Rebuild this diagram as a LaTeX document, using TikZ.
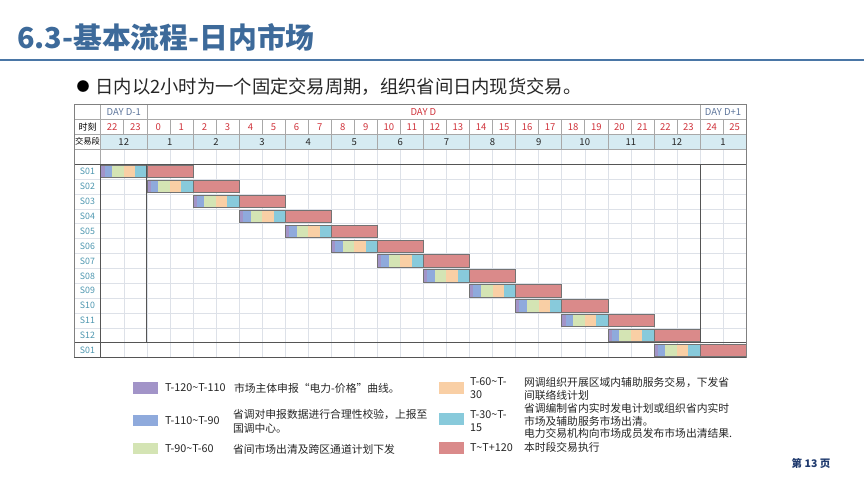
\documentclass[tikz,border=0pt]{standalone}
\usepackage{fontspec}
\setmainfont{Noto Sans CJK SC}
\definecolor{ctitle}{HTML}{3D6A9A}
\definecolor{cline}{HTML}{4A76A6}
\definecolor{cred}{HTML}{D0343C}
\definecolor{cday}{HTML}{5E769C}
\definecolor{cteal}{HTML}{4E97B0}
\definecolor{cseg}{HTML}{D6EBF2}
\definecolor{cmed}{HTML}{A8A8A8}
\definecolor{clight}{HTML}{DDE1E8}
\definecolor{cdark}{HTML}{555555}
\definecolor{cpur}{HTML}{A294C8}
\definecolor{cblu}{HTML}{8FAADC}
\definecolor{cgrn}{HTML}{D4E4B4}
\definecolor{corg}{HTML}{F9CFA5}
\definecolor{ccyn}{HTML}{88CADB}
\definecolor{cpnk}{HTML}{DA8A8A}
\definecolor{ctext}{HTML}{262626}
\definecolor{cpage}{HTML}{1F3A6E}
\begin{document}
\begin{tikzpicture}[x=1pt,y=-1pt,
  every node/.style={inner sep=0pt,outer sep=0pt},
  titlefont/.style={font=\bfseries\fontsize{28.8}{30}\selectfont,text=ctitle},
  hdr/.style={font=\fontsize{9}{10}\selectfont,text=black},
  hourlab/.style={font=\fontsize{9.5}{10}\selectfont,text=cred},
  seglab/.style={font=\fontsize{9.5}{10}\selectfont,text=ctext},
  daylab/.style={font=\fontsize{9.5}{10}\selectfont},
  slab/.style={font=\fontsize{8.8}{10}\selectfont,text=cteal},
  legt/.style={font=\fontsize{10.8}{12.8}\selectfont,align=left,anchor=west,text=ctext},
  medline/.style={draw=cmed,line width=0.6pt},
  lightline/.style={draw=clight,line width=0.5pt},
  darkline/.style={draw=cdark,line width=1pt},
  barline/.style={draw=black!55,line width=0.6pt}
]
\useasboundingbox (0,0) rectangle (864,486);
\fill[white] (0,0) rectangle (864,486);

% title
\node[titlefont,anchor=base west] (title) at (17,49) {6.3-基本流程-日内市场};
\draw[cline,line width=1.8pt] (0,60.3) -- (864,60.3);
\node[font=\fontsize{13}{14}\selectfont] (bul) at (83,86.5) {●};
\node[anchor=west,font=\fontsize{18.3}{20}\selectfont,text=ctext] (sub) at (95.5,86.5) {日内以2小时为一个固定交易周期，组织省间日内现货交易。};

% table geometry
\def\L{74.3}
\def\X{100.7}
\def\W{23.05}
\def\T{104.5}
\def\H{14.9}
\pgfmathsetmacro\R{\X+28*\W}

% segment row fill
\fill[cseg] (\X,{\T+2*\H}) rectangle (\R,{\T+3*\H});

% light grid (blank row and S rows)
\foreach \j in {1,...,27} {
  \draw[lightline] ({\X+\j*\W},{\T+3*\H}) -- ({\X+\j*\W},{\T+17*\H});
}
\foreach \i in {5,...,15} {
  \draw[lightline] (\L,{\T+\i*\H}) -- (\R,{\T+\i*\H});
}

% header medium lines
\foreach \i in {1,2,3} {
  \draw[medline] (\L,{\T+\i*\H}) -- (\R,{\T+\i*\H});
}
\draw[medline] (\X,\T) -- (\X,{\T+4*\H});
\draw[medline] ({\X+2*\W},\T) -- ({\X+2*\W},{\T+\H});
\draw[medline] ({\X+26*\W},\T) -- ({\X+26*\W},{\T+\H});
\foreach \j in {1,...,27} {
  \draw[medline] ({\X+\j*\W},{\T+\H}) -- ({\X+\j*\W},{\T+2*\H});
}
\foreach \j in {1,...,13} {
  \draw[medline] ({\X+2*\j*\W},{\T+2*\H}) -- ({\X+2*\j*\W},{\T+3*\H});
}

% header texts
\node[daylab,text=cday] (dm1) at ({\X+\W},{\T+0.5*\H}) {DAY D-1};
\node[daylab,text=cred] (d0) at ({\X+14*\W},{\T+0.5*\H}) {DAY D};
\node[daylab,text=cday] (dp1) at ({\X+27*\W},{\T+0.5*\H}) {DAY D+1};
\node[hdr] (shike) at ({(\L+\X)/2},{\T+1.5*\H}) {时刻};
\node[hdr,font=\fontsize{8.3}{10}\selectfont] (jyd) at ({(\L+\X)/2},{\T+2.5*\H}) {交易段};
\foreach \j in {0,...,27} {
  \pgfmathtruncatemacro\hh{\j<2 ? \j+22 : \j-2}
  \node[hourlab] (h\j) at ({\X+(\j+0.5)*\W},{\T+1.5*\H}) {\hh};
}
\foreach \j in {0,...,13} {
  \pgfmathtruncatemacro\ss{\j==0 ? 12 : (\j<13 ? \j : 1)}
  \node[seglab] (g\j) at ({\X+(2*\j+1)*\W},{\T+2.5*\H}) {\ss};
}

% row labels and bars
\foreach \k in {1,...,13} {
  \pgfmathtruncatemacro\nn{\k<13 ? \k : 1}
  \node[slab] (s\k) at ({(\L+\X)/2},{\T+(3.5+\k)*\H}) {S\ifnum\nn<10 0\fi\nn};
  \pgfmathsetmacro\ya{\T+(3+\k)*\H+1.3}
  \pgfmathsetmacro\yb{\T+(4+\k)*\H-1.3}
  \pgfmathsetmacro\xa{\X+2*(\k-1)*\W}
  \pgfmathsetmacro\u{\W/6}
  \fill[cpur] (\xa,\ya) rectangle ({\xa+\u},\yb);
  \fill[cblu] ({\xa+\u},\ya) rectangle ({\xa+3*\u},\yb);
  \fill[cgrn] ({\xa+3*\u},\ya) rectangle ({\xa+6*\u},\yb);
  \fill[corg] ({\xa+6*\u},\ya) rectangle ({\xa+9*\u},\yb);
  \fill[ccyn] ({\xa+9*\u},\ya) rectangle ({\xa+12*\u},\yb);
  \fill[cpnk] ({\xa+12*\u},\ya) rectangle ({\xa+24*\u},\yb);
  \draw[barline] (\xa,\ya) rectangle ({\xa+12*\u},\yb);
  \draw[barline] ({\xa+12*\u},\ya) rectangle ({\xa+24*\u},\yb);
}

% dark lines
\draw[darkline] (\L,{\T+4*\H}) -- (\R,{\T+4*\H});
\draw[darkline] (\L,{\T+16*\H}) -- (\R,{\T+16*\H});
\draw[darkline] (\X,{\T+4*\H}) -- (\X,{\T+17*\H});
\draw[darkline] ({\X+2*\W},{\T+4*\H}) -- ({\X+2*\W},{\T+16*\H});
\draw[darkline] ({\X+26*\W},{\T+4*\H}) -- ({\X+26*\W},{\T+16*\H});
% outer border
\draw[draw=black!50,line width=1pt] (\L,\T) rectangle (\R,{\T+17*\H});
\draw[darkline] (\L,{\T+17*\H}) -- (\R,{\T+17*\H});

% legend
\fill[cpur] (133,382) rectangle (158,394);
\fill[cblu] (133,414.5) rectangle (158,426);
\fill[cgrn] (133,442.5) rectangle (158,453.5);
\fill[corg] (439,382) rectangle (464,394);
\fill[ccyn] (439,413) rectangle (464,425);
\fill[cpnk] (439,442) rectangle (464,453.5);

\node[legt] (l1) at (165,388) {T-120\textasciitilde T-110};
\node[legt] (l2) at (165,420.5) {T-110\textasciitilde T-90};
\node[legt] (l3) at (165,448.3) {T-90\textasciitilde T-60};
\node[legt] (d1) at (234,388) {市场主体申报“电力-价格”曲线。};
\node[legt,font=\fontsize{10.8}{14}\selectfont] (d2) at (233,421.5) {省调对申报数据进行合理性校验，上报至\\国调中心。};
\node[legt] (d3) at (233,449) {省间市场出清及跨区通道计划下发};

\node[legt,font=\fontsize{10.8}{12.3}\selectfont] (l4) at (470,388) {T-60\textasciitilde T-\\30};
\node[legt,font=\fontsize{10.8}{12.3}\selectfont] (l5) at (470,421) {T-30\textasciitilde T-\\15};
\node[legt] (l6) at (470,447.7) {T\textasciitilde T+120};
\node[legt,font=\fontsize{10.8}{12.3}\selectfont] (d4) at (524,388.8) {网调组织开展区域内辅助服务交易，下发省\\间联络线计划};
\node[legt] (d5) at (524,421) {省调编制省内实时发电计划或组织省内实时\\市场及辅助服务市场出清。\\电力交易机构向市场成员发布市场出清结果.};
\node[legt] (d6) at (524,447.7) {本时段交易执行};

% page number
\node[font=\bfseries\fontsize{10.5}{12}\selectfont,text=cpage] (page) at (811,463) {第 13 页};
\end{tikzpicture}
\end{document}
